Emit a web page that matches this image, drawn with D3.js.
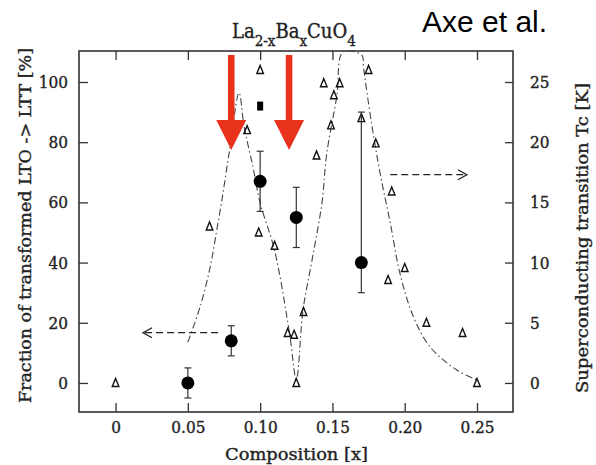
<!DOCTYPE html>
<html><head><meta charset="utf-8">
<script src="https://cdn.jsdelivr.net/npm/d3@7"></script>
<style>
body{margin:0;background:#fff;}
svg{display:block;}
.tk text{font-family:"DejaVu Serif Condensed","DejaVu Serif",serif;font-stretch:condensed;font-size:17px;fill:#222;stroke:#222;stroke-width:0.35px;}
.tk path{display:none;}
.tk line{stroke:#333;stroke-width:1.3;}
</style></head>
<body>
<script>
// ---- data ----
const xTicks = [0, 0.05, 0.10, 0.15, 0.20, 0.25];
const xTickLabels = ["0", "0.05", "0.10", "0.15", "0.20", "0.25"];
const leftTicks = [0, 20, 40, 60, 80, 100];
const rightTicks = [0, 5, 10, 15, 20, 25];

// Tc (open triangles, right axis)
const tcX = [0, 0.05, 0.065, 0.091, 0.10, 0.099, 0.11, 0.119, 0.1235, 0.125, 0.13, 0.139, 0.144, 0.149, 0.151, 0.155, 0.17, 0.175, 0.18, 0.1885, 0.191, 0.20, 0.215, 0.24, 0.25];
const tcY = [0, 0, 13.0, 21.0, 26.0, 12.5, 11.4, 4.15, 4.0, 0, 5.9, 18.9, 24.9, 21.4, 23.9, 24.9, 22.0, 26.0, 19.9, 8.55, 15.9, 9.55, 5.0, 4.15, 0];

// Fraction transformed (filled circles, left axis) with error bars
const fracX = [0.05, 0.08, 0.10, 0.125, 0.17];
const fracY = [0, 14, 67, 55, 40];
const fracLo = [-5, 9, 57, 45, 30];
const fracHi = [5, 19, 77, 65, 90];

// single filled square (left axis)
const squareX = [0.10];
const squareY = [92];

// guide-to-the-eye dash-dot curve (right axis)
const curveX = [0.050, 0.0584, 0.0654, 0.070, 0.0734, 0.0792, 0.0854, 0.0889, 0.0951, 0.0999, 0.1100, 0.1203, 0.1250, 0.1297, 0.1359, 0.1428, 0.146, 0.153, 0.1574, 0.1705, 0.1714, 0.177, 0.183, 0.190, 0.1967, 0.206, 0.2175, 0.236, 0.25];
const curveY = [3.4, 6.3, 9.6, 12.7, 15.1, 19.6, 24.1, 21.3, 17.9, 15.0, 11.0, 4.15, 0.3, 6.1, 10.2, 15.0, 19.0, 23.8, 27.5, 27.2, 26.3, 21.6, 17.4, 13.3, 9.1, 5.5, 3.0, 1.08, 0.25];

// dashed annotation arrows
const leftArrowX = [0.0709, 0.019];   // from, to (left axis value 16.7)
const leftArrowY = 16.7;
const rightArrowX = [0.19, 0.243];    // from, to (right axis value 17.3)
const rightArrowY = 17.3;

// red arrows (left axis units)
const redArrowX = [0.08, 0.12];
const redArrowTop = 109;
const redArrowHeadBase = 87.4;
const redArrowTip = 77.4;

// ---- layout ----
const W = 596, H = 465;
const L = 79, R = 513, T = 51, B = 412;

const svg = d3.select("body").append("svg").attr("width", W).attr("height", H);

const x = d3.scaleLinear().domain([-0.0253, 0.2749]).range([L, R]);
const yL = d3.scaleLinear().domain([-9.65, 110.3]).range([B, T]);
const yR = d3.scaleLinear().domain([-9.65 / 4, 110.3 / 4]).range([B, T]);

svg.append("clipPath").attr("id", "clip").append("rect")
  .attr("x", L).attr("y", T - 1).attr("width", R - L).attr("height", B - T + 1);

// axes
svg.append("g").attr("class", "tk").attr("transform", `translate(0,${B})`)
  .call(d3.axisBottom(x).tickValues(xTicks).tickFormat((d, i) => xTickLabels[i]).tickSizeInner(-9).tickSizeOuter(0).tickPadding(9));
svg.append("g").attr("class", "tk").attr("transform", `translate(0,${T})`)
  .call(d3.axisTop(x).tickValues(xTicks).tickFormat("").tickSizeInner(-9).tickSizeOuter(0));
svg.append("g").attr("class", "tk").attr("transform", `translate(${L},0)`)
  .call(d3.axisLeft(yL).tickValues(leftTicks).tickSizeInner(-9).tickSizeOuter(0).tickPadding(11));
svg.append("g").attr("class", "tk").attr("transform", `translate(${R},0)`)
  .call(d3.axisRight(yR).tickValues(rightTicks).tickSizeInner(-8).tickSizeOuter(0).tickPadding(17));

// frame
svg.append("rect").attr("x", L).attr("y", T).attr("width", R - L).attr("height", B - T)
  .attr("fill", "none").attr("stroke", "#333").attr("stroke-width", 1.6);

const plot = svg.append("g").attr("clip-path", "url(#clip)");

// dash-dot curve
const line = d3.line().x(d => x(d[0])).y(d => yR(d[1])).curve(d3.curveCatmullRom.alpha(0.5));
plot.append("path").datum(curveX.map((v, i) => [v, curveY[i]]))
  .attr("d", line).attr("fill", "none").attr("stroke", "#444").attr("stroke-width", 1.1)
  .attr("stroke-dasharray", "7,3,1.5,3");

// triangles
plot.selectAll(".tri").data(tcX.map((v, i) => [v, tcY[i]])).join("path")
  .attr("d", d => { const cx = x(d[0]), cy = yR(d[1]);
    return `M${cx},${cy - 4.5}L${cx + 3.3},${cy + 3.5}L${cx - 3.3},${cy + 3.5}Z`; })
  .attr("fill", "none").attr("stroke", "#111").attr("stroke-width", 1.4);

// error bars
const eb = plot.selectAll(".eb").data(fracX.map((v, i) => ({x: v, y: fracY[i], lo: fracLo[i], hi: fracHi[i]}))).join("g");
eb.append("line").attr("x1", d => x(d.x)).attr("x2", d => x(d.x))
  .attr("y1", d => yL(d.lo)).attr("y2", d => yL(d.hi)).attr("stroke", "#333").attr("stroke-width", 1.2);
eb.append("line").attr("x1", d => x(d.x) - 3.5).attr("x2", d => x(d.x) + 3.5)
  .attr("y1", d => yL(d.lo)).attr("y2", d => yL(d.lo)).attr("stroke", "#333").attr("stroke-width", 1.2);
eb.append("line").attr("x1", d => x(d.x) - 3.5).attr("x2", d => x(d.x) + 3.5)
  .attr("y1", d => yL(d.hi)).attr("y2", d => yL(d.hi)).attr("stroke", "#333").attr("stroke-width", 1.2);
eb.append("circle").attr("cx", d => x(d.x)).attr("cy", d => yL(d.y)).attr("r", 6.5).attr("fill", "#000");

// square
plot.selectAll(".sq").data(squareX.map((v, i) => [v, squareY[i]])).join("rect")
  .attr("x", d => x(d[0]) - 3).attr("y", d => yL(d[1]) - 4.5).attr("width", 6).attr("height", 9).attr("fill", "#000");

// dashed annotation arrows
function dashedArrow(x1, x2, yy, dir) {
  plot.append("line").attr("x1", x1).attr("x2", x2).attr("y1", yy).attr("y2", yy)
    .attr("stroke", "#222").attr("stroke-width", 1.3).attr("stroke-dasharray", "7,4");
  plot.append("path").attr("d", `M${x2 - dir * 9},${yy - 5}L${x2},${yy}L${x2 - dir * 9},${yy + 5}`)
    .attr("fill", "none").attr("stroke", "#222").attr("stroke-width", 1.3);
}
dashedArrow(x(leftArrowX[0]), x(leftArrowX[1]), yL(leftArrowY), -1);
dashedArrow(x(rightArrowX[0]), x(rightArrowX[1]), yR(rightArrowY), 1);

// red arrows
redArrowX.forEach(v => {
  const cx = x(v), top = yL(redArrowTop), hb = yL(redArrowHeadBase), tip = yL(redArrowTip);
  svg.append("path")
    .attr("d", `M${cx - 3.3},${top}L${cx + 3.3},${top}L${cx + 3.3},${hb}L${cx + 15},${hb}L${cx},${tip}L${cx - 15},${hb}L${cx - 3.3},${hb}Z`)
    .attr("fill", "#e8321c");
});

// titles
const serif = '"DejaVu Serif Condensed","DejaVu Serif",serif';
function t(sel) { return sel.attr("font-family", serif).attr("fill", "#222").attr("stroke", "#222").attr("stroke-width", 0.35); }
t(svg.append("text")).attr("x", 225).attr("y", 460).attr("textLength", 143).attr("lengthAdjust", "spacingAndGlyphs")
  .attr("font-size", 17).text("Composition [x]");
t(svg.append("text")).attr("transform", "translate(31,403) rotate(-90)").attr("textLength", 355).attr("lengthAdjust", "spacingAndGlyphs")
  .attr("font-size", 16).text("Fraction of transformed LTO -> LTT [%]");
t(svg.append("text")).attr("transform", "translate(588,393) rotate(-90)").attr("textLength", 310).attr("lengthAdjust", "spacingAndGlyphs")
  .attr("font-size", 16).text("Superconducting transition Tc [K]");

// formula
const f = t(svg.append("text")).attr("x", 232).attr("y", 38).attr("font-size", 20);
f.append("tspan").text("La");
f.append("tspan").attr("font-size", 15).attr("dy", 8).text("2-x");
f.append("tspan").attr("dy", -8).text("Ba");
f.append("tspan").attr("font-size", 15).attr("dy", 8).text("x");
f.append("tspan").attr("dy", -8).text("CuO");
f.append("tspan").attr("font-size", 15).attr("dy", 8).text("4");

svg.append("text").attr("x", 422).attr("y", 32).attr("font-family", '"Liberation Sans",Arial,sans-serif')
  .attr("font-size", 30).attr("fill", "#000").text("Axe et al.");
</script>
</body></html>
